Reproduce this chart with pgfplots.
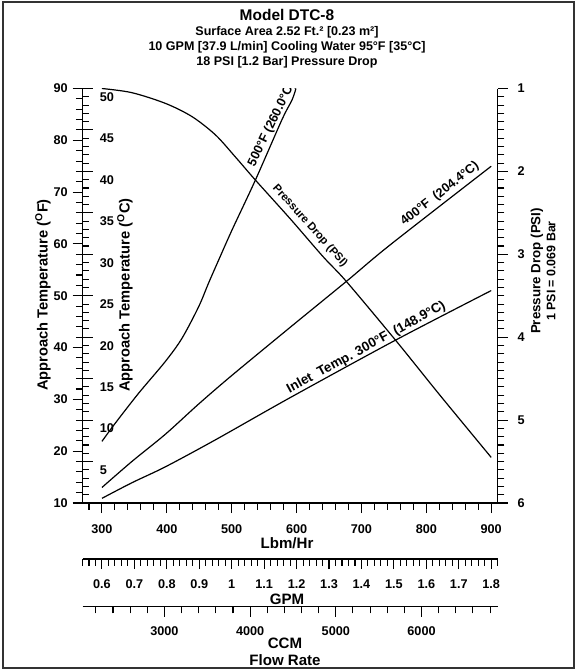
\documentclass[border=0pt]{standalone}
\usepackage{fontspec}
\setmainfont{Liberation Sans}
\usepackage{pgfplots}
\pgfplotsset{compat=1.18}

% sizes: 1 px of the reference = 0.75pt
\newcommand{\fs}[1]{\fontsize{#1}{#1}\selectfont\bfseries}

\pgfplotsset{
  base/.style={
    scale only axis,
    width=311.4pt, height=310.875pt,
    xmin=270, xmax=910,
    at={(61.875pt,-377.25pt)}, anchor=south west,
    axis line style={black, line width=1.1pt, -},
    tick style={black, line width=0.8pt},
    major tick length=7.5pt, minor tick length=5pt,
    tick align=outside,
    ticklabel style={font=\fs{9.5}},
    /pgf/number format/assume math mode=true,
    /pgf/number format/1000 sep={},
    scaled ticks=false,
  },
  scale/.style={
    scale only axis, width=311.4pt, height=4pt,
    ymin=0, ymax=1,
    hide y axis, axis x line*=bottom,
    axis line style={black, line width=1.1pt, -},
    tick style={black, line width=0.8pt},
    major tick length=7.5pt, minor tick length=5pt,
    tick align=outside,
    ticklabel style={font=\fs{9.5}},
    /pgf/number format/assume math mode=true,
    /pgf/number format/1000 sep={},
    scaled ticks=false,
  },
  curve/.style={black, line width=0.9pt, smooth, tension=0.5, no markers},
}

\begin{document}
\begin{tikzpicture}
\path[use as bounding box] (0,0) rectangle (432pt,-502.5pt);

% Fahrenheit scale, flow in Lbm/Hr
\begin{axis}[base,
  ymin=10, ymax=90,
  axis x line*=bottom, axis y line*=left,
  xtick={300,400,...,900},
  minor xtick={280,300,...,900},
  ytick={10,20,...,90},
  minor ytick={10,12,...,90},
  xticklabel style={yshift=-5pt},
]
\addplot[curve] coordinates {(300,21.9)(320.5,25.4)(356.6,31.2)(397.6,37.3)(423.4,41.8)(449.1,47.9)(464.5,52.5)(479.9,56.9)(500.5,62.7)(536.4,72.3)(577.5,84.0)(593,87.8)(599,90)};
\addplot[curve] coordinates {(300,13.0)(346,18.0)(398,23.3)(449,29.1)(500,34.6)(591,44.0)(677,52.8)(744,59.8)(900,75.0)};
\addplot[curve] coordinates {(300,10.9)(346,13.9)(398,17.0)(475,22.2)(591,30.4)(752,41.4)(900,51.0)};
\node[font=\fs{9.5}, rotate=64, anchor=south, inner sep=1pt] at (axis cs:572,82.4) {500°F (260.0°C)};
\node[font=\fs{9.5}, rotate=38, anchor=south, inner sep=2.5pt] at (axis cs:830,68.2) {400°F\ \ (204.4°C)};
\node[font=\fs{10}, rotate=28.6, anchor=south, inner sep=0.8pt] at (axis cs:713,38.7) {Inlet\ \ Temp. 300°F\ \ (148.9°C)};
\end{axis}

% Celsius scale on the inner side of the left axis
\begin{axis}[base,
  ymin=0, ymax=50,
  hide x axis, axis y line*=left,
  tick align=inside,
  ytick={5,10,...,50},
  minor ytick={0,1,...,50},
  yticklabel style={anchor=west, xshift=9.5pt, yshift=-6.4pt},
]
\end{axis}

% pressure drop scale on the right
\begin{axis}[base,
  ymin=1, ymax=6, y dir=reverse,
  hide x axis, axis y line*=right,
  ytick={1,2,3,4,5,6},
  minor y tick num=9,
  yticklabel style={xshift=4pt},
]
\addplot[curve] coordinates {(300,1.0)(346,1.05)(398,1.18)(439,1.34)(475,1.56)(505,1.82)(536,2.10)(590,2.57)(641,3.03)(677,3.33)(754,4.05)(821,4.70)(900,5.45)};
\node[font=\fs{8.4}, rotate=-48, anchor=south, inner sep=3.5pt] at (axis cs:609,2.74) {Pressure Drop (PSI)};
\end{axis}

% GPM scale
\begin{axis}[scale,
  at={(61.875pt,-419.25pt)}, anchor=south west,
  xmin=0.54, xmax=1.82,
  xtick={0.6,0.7,0.8,0.9,1,1.1,1.2,1.3,1.4,1.5,1.6,1.7,1.8},
  xticklabels={0.6,0.7,0.8,0.9,1,1.1,1.2,1.3,1.4,1.5,1.6,1.7,1.8},
  minor xtick={0.54,0.56,...,1.82},
  xticklabel style={yshift=-4.5pt},
]
\end{axis}

% CCM scale
\begin{axis}[scale,
  at={(61.875pt,-455pt)}, anchor=south west,
  xmin=2044, xmax=6889,
  xtick={3000,4000,5000,6000},
  minor xtick={2200,2400,...,6800},
  xticklabel style={yshift=-4pt},
]
\end{axis}

\begin{scope}[x=0.75pt, y=-0.75pt]
\draw[black!80, line width=1.5pt] (2.5,2.5) rectangle (573.5,667.5);
\node[font=\fs{11.6}] at (287,14.5) {Model DTC-8};
\node[font=\fs{9.4}] at (287,32) {Surface Area 2.52 Ft.² [0.23 m²]};
\node[font=\fs{9.4}] at (287,47) {10 GPM [37.9 L/min] Cooling Water 95°F [35°C]};
\node[font=\fs{9.4}] at (287,62) {18 PSI [1.2 Bar] Pressure Drop};
\node[font=\fs{11.3}] at (287,543) {Lbm/Hr};
\node[font=\fs{11.3}] at (287,599) {GPM};
\node[font=\fs{11.3}] at (285,643) {CCM};
\node[font=\fs{11.3}] at (285,660) {Flow Rate};
\node[font=\fs{11}, rotate=90] at (43,295) {Approach Temperature (\textsuperscript{O}F)};
\node[font=\fs{11}, rotate=90] at (125,295) {Approach Temperature (\textsuperscript{O}C)};
\node[font=\fs{10}, rotate=90] at (537,271) {Pressure Drop (PSI)};
\node[font=\fs{9.3}, rotate=90] at (551,271) {1 PSI = 0.069 Bar};
\end{scope}
\end{tikzpicture}
\end{document}
